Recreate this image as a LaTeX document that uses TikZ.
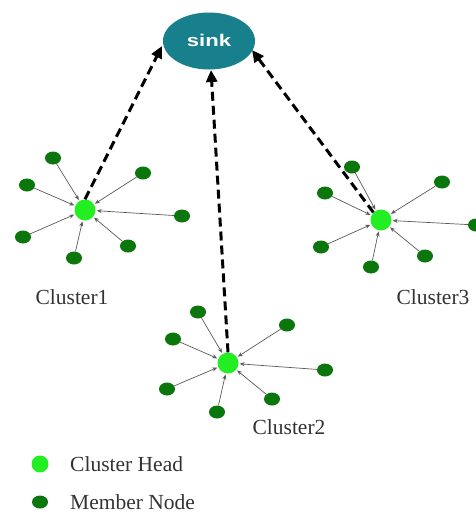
\documentclass[tikz,border=0pt]{standalone}
\usepackage{fontspec}
\setmainfont{Liberation Serif}
\newfontfamily\sinkfont{Liberation Sans}
\usetikzlibrary{shapes.geometric,arrows.meta}
\definecolor{sinkteal}{HTML}{17808C}
\definecolor{headgreen}{HTML}{22EE22}
\definecolor{memgreen}{HTML}{0B760B}
\definecolor{lblgray}{HTML}{333333}
\tikzset{
  head/.style={circle,fill=headgreen,inner sep=0pt,minimum size=21pt},
  member/.style={ellipse,fill=memgreen,inner sep=0pt,minimum width=16pt,minimum height=13pt},
  feed/.style={draw=black!65,line width=0.7pt,-{Stealth[length=5pt,width=4pt]},shorten >=1pt},
  uplink/.style={draw=black,line width=3pt,dash pattern=on 9pt off 5pt,-{Triangle[length=12pt,width=11pt]}},
  lbl/.style={text=lblgray,font=\fontsize{21.5}{24}\selectfont,inner sep=0pt}
}
\begin{document}
\begin{tikzpicture}[x=1pt,y=-1pt]
\useasboundingbox (0,0) rectangle (476,520);
\node[ellipse,fill=sinkteal,minimum width=92pt,minimum height=57pt,inner sep=0pt] (sink) at (209,41) {};
\node[text=white,font=\sinkfont\bfseries\fontsize{17}{19}\selectfont,xscale=1.3,inner sep=0pt] (sinktxt) at (209,40) {sink};

% Cluster 1
\node[head] (h1) at (85,210) {};
\foreach \n/\x/\y in {a/53/158,b/143/173,c/27/185,d/182/216,e/23/237,f/128/246,g/74/258}{
  \node[member] (m1\n) at (\x,\y) {};
  \draw[feed] (m1\n) -- (h1);
}
\node[lbl] (l1) at (72,297) {Cluster1};

% Cluster 3
\node[head] (h3) at (381,220) {};
\foreach \n/\x/\y in {a/352/167,b/442/182,c/325/193,d/476/225,e/321/247,f/425/256,g/371/267}{
  \node[member] (m3\n) at (\x,\y) {};
  \draw[feed] (m3\n) -- (h3);
}
\node[lbl] (l3) at (433,297) {Cluster3};

% Cluster 2
\node[head] (h2) at (228,363) {};
\foreach \n/\x/\y in {a/198/312,b/287/325,c/173/339,d/325/370,e/167/389,f/272/399,g/217/412}{
  \node[member] (m2\n) at (\x,\y) {};
  \draw[feed] (m2\n) -- (h2);
}
\node[lbl] (l2) at (289,427) {Cluster2};

% uplinks
\coordinate (s1) at (162,46);
\coordinate (s2) at (211,70);
\coordinate (s3) at (252,50);
\draw[uplink] (h1.north) -- (s1);
\draw[uplink] (h2.north) -- (s2);
\draw[uplink] (h3.north west) -- (s3);

% legend
\node[head,minimum size=17pt] (lg1) at (40,464) {};
\node[lbl,anchor=west] (lt1) at (70,464) {Cluster Head};
\node[member] (lg2) at (40,502) {};
\node[lbl,anchor=west] (lt2) at (70,502) {Member Node};
\end{tikzpicture}
\end{document}
